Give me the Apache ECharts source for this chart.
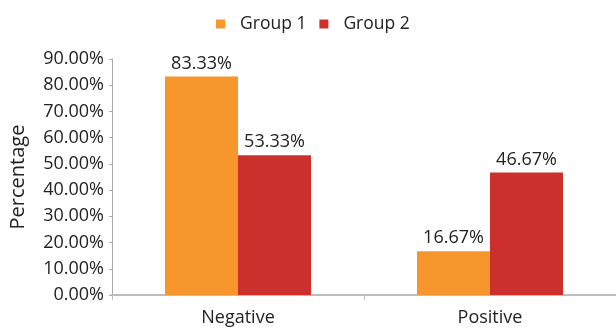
<!DOCTYPE html>
<html><head><meta charset="utf-8">
<script src="https://cdn.jsdelivr.net/npm/echarts@6/dist/echarts.min.js"></script>
<style>html,body{margin:0;padding:0;background:#fff}#c{width:616px;height:335px}</style>
</head><body><div id="c"></div>
<script>
const categories = ['Negative', 'Positive'];
const group1 = [83.33, 16.67];
const group2 = [53.33, 46.67];
const seriesNames = ['Group 1', 'Group 2'];
const yTicks = [0, 10, 20, 30, 40, 50, 60, 70, 80, 90];

const font = 'Open Sans';
const chart = echarts.init(document.getElementById('c'));
chart.setOption({
  animation: false,
  textStyle: { fontFamily: font },
  legend: {
    top: 10, left: 211,
    itemWidth: 9, itemHeight: 9, itemGap: 13,
    icon: 'rect',
    textStyle: { fontFamily: font, fontSize: 17.5, color: '#222', padding: [0, 0, 0, 10] },
    data: seriesNames
  },
  grid: { left: 111, right: 0, top: 59, bottom: 40 },
  xAxis: {
    type: 'category', data: categories,
    axisLine: { lineStyle: { color: '#bdbdbd', width: 2 } },
    axisTick: { show: true, length: 5, lineStyle: { color: '#bdbdbd' } },
    axisLabel: { fontFamily: font, fontSize: 18, color: '#222', margin: 14 }
  },
  yAxis: {
    type: 'value', min: yTicks[0], max: yTicks[yTicks.length - 1], interval: 10,
    name: 'Percentage', nameLocation: 'middle', nameGap: 84,
    nameTextStyle: { fontFamily: font, fontSize: 20, color: '#222' },
    splitLine: { show: false },
    axisLine: { show: true, lineStyle: { color: '#aaaaaa' } },
    axisTick: { show: true, length: 3, lineStyle: { color: '#aaaaaa' } },
    axisLabel: { fontFamily: font, fontSize: 18, color: '#222', margin: 8,
      formatter: v => v.toFixed(2) + '%' }
  },
  series: [
    { name: seriesNames[0], type: 'bar', data: group1, barWidth: 73, barGap: '0%',
      itemStyle: { color: '#F7962D' },
      label: { show: true, position: 'top', distance: 4, fontFamily: font, fontSize: 18, color: '#222',
        formatter: p => p.value.toFixed(2) + '%' } },
    { name: seriesNames[1], type: 'bar', data: group2, barWidth: 73, barGap: '0%',
      itemStyle: { color: '#CC302C' },
      label: { show: true, position: 'top', distance: 4, fontFamily: font, fontSize: 18, color: '#222',
        formatter: p => p.value.toFixed(2) + '%' } }
  ]
});
</script></body></html>
